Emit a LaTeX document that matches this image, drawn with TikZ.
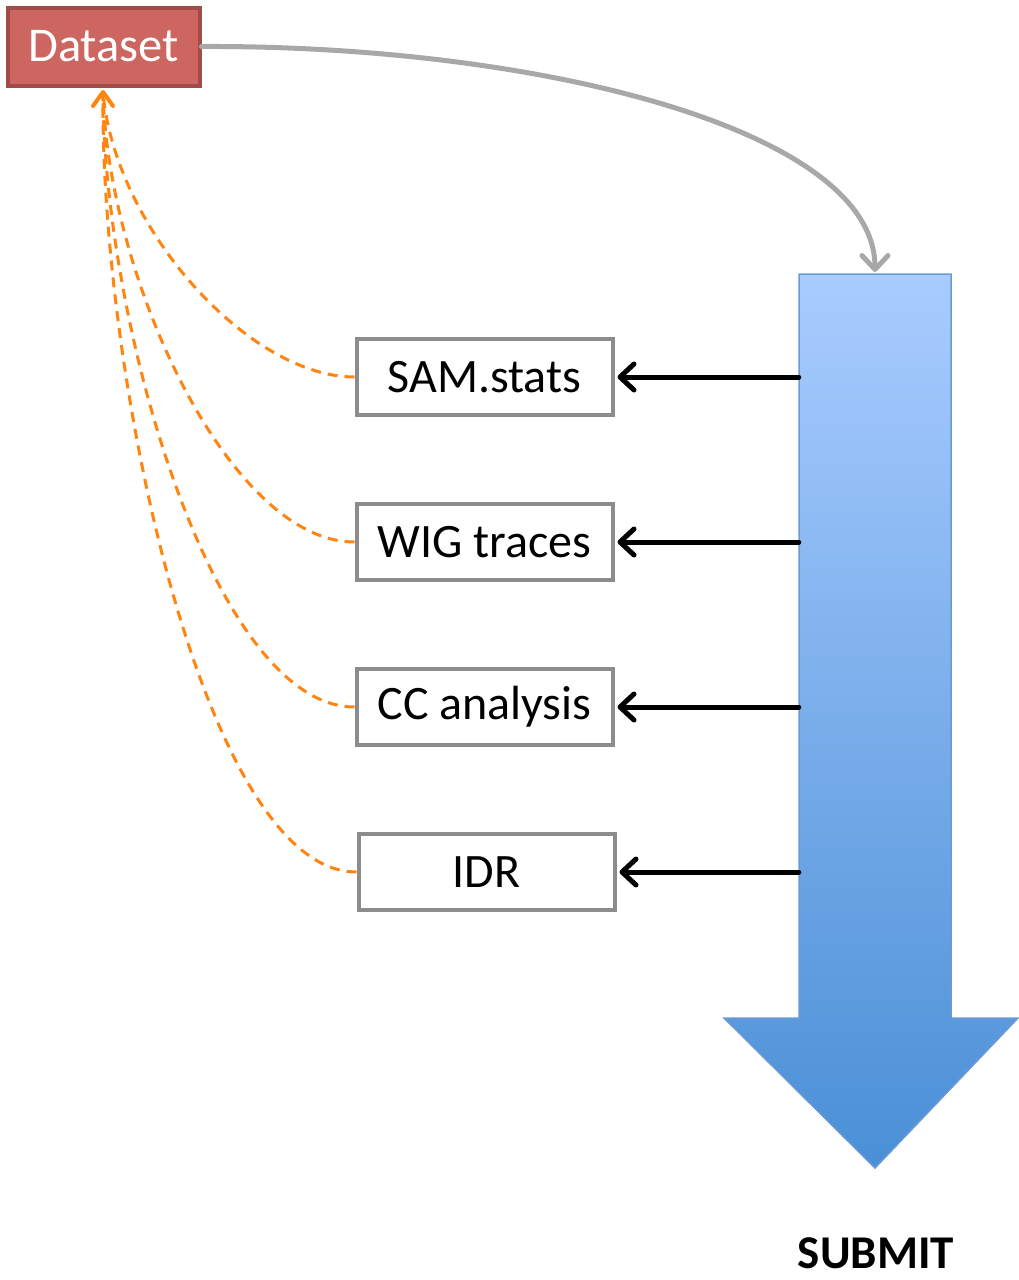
\documentclass[tikz,border=0pt]{standalone}
\usepackage{fontspec}
\setmainfont{Carlito}
\usetikzlibrary{arrows.meta,calc}
\definecolor{dsfill}{HTML}{CD6660}
\definecolor{dsline}{HTML}{A04D49}
\definecolor{boxline}{HTML}{8C8C8C}
\definecolor{linkgray}{HTML}{A8A8A8}
\definecolor{dashorange}{HTML}{FF8410}
\definecolor{flowtop}{HTML}{A9CCFF}
\definecolor{flowbot}{HTML}{4A8FD6}
\definecolor{flowline}{HTML}{6A9AD4}
\tikzset{
  dsnode/.style={draw=dsline, line width=4pt, fill=dsfill, text=white,
    minimum width=192pt, minimum height=78pt, inner sep=0pt,
    font=\fontsize{48.5}{52}\selectfont},
  stagebox/.style={draw=boxline, line width=4pt, fill=white,
    minimum width=256pt, minimum height=76pt, inner sep=0pt,
    font=\fontsize{48}{52}\selectfont},
  feedback/.style={draw=dashorange, line width=3pt, dash pattern=on 10pt off 7pt},
  handoff/.style={draw=black, line width=5pt, line cap=round,
    -{Straight Barb[length=14pt,width=26pt,line width=5pt,round]}},
  submitlink/.style={draw=linkgray, line width=5pt, line cap=round,
    -{Straight Barb[length=14pt,width=26pt,line width=5pt,round]}},
}
\begin{document}
\begin{tikzpicture}[x=1pt,y=-1pt]
\useasboundingbox (0,0) rectangle (1018,1280);

% the submission flow arrow
\shade[top color=flowtop, bottom color=flowbot]
  (799,274) -- (951,274) -- (951,1018) -- (1018,1018) -- (875,1168)
  -- (724,1018) -- (799,1018) -- cycle;
\draw[flowline, line width=1.5pt, line join=miter]
  (799,274) -- (951,274) -- (951,1018) -- (1018,1018) -- (875,1168)
  -- (724,1018) -- (799,1018) -- cycle;
\node[inner sep=0pt, minimum width=152pt, minimum height=744pt] (shaft) at (875,646) {};
\coordinate (shafttop) at (875,272);

\node[font=\bfseries\fontsize{47}{50}\selectfont, inner sep=0pt, anchor=base]
  (submit) at (876,1268) {SUBMIT};

% dataset
\node[dsnode] (ds) at (103.5,46.5) {Dataset};

% stages
\node[stagebox] (sam) at (484.5,377) {SAM.stats};
\node[stagebox] (wig) at (484.5,542) {WIG traces};
\node[stagebox] (cc)  at (484.5,707) {CC analysis};
\node[stagebox] (idr) at (486.5,872) {IDR};

% dataset goes to submission
\draw[submitlink] (ds.east) .. controls (540,45) and (875,130) .. (shafttop);

% outputs of the submission flow
\foreach \s in {sam,wig,cc,idr}
  \draw[handoff] (shaft.west |- \s.east) -- ($(\s.east)+(3,0)$);

% feedback into the dataset
\coordinate (dsin) at (103,92);
\draw[feedback] (sam.west) .. controls (250,377) and (115,230) .. (dsin);
\draw[feedback] (wig.west) .. controls (230,542) and (108,280) .. (dsin);
\draw[feedback] (cc.west)  .. controls (215,707) and (104,330) .. (dsin);
\draw[feedback] (idr.west) .. controls (205,872) and (100,380) .. (dsin);
\draw[dashorange, line width=4pt, line cap=round, line join=round]
  (93,106) -- (103,92) -- (113,106);
\end{tikzpicture}
\end{document}
